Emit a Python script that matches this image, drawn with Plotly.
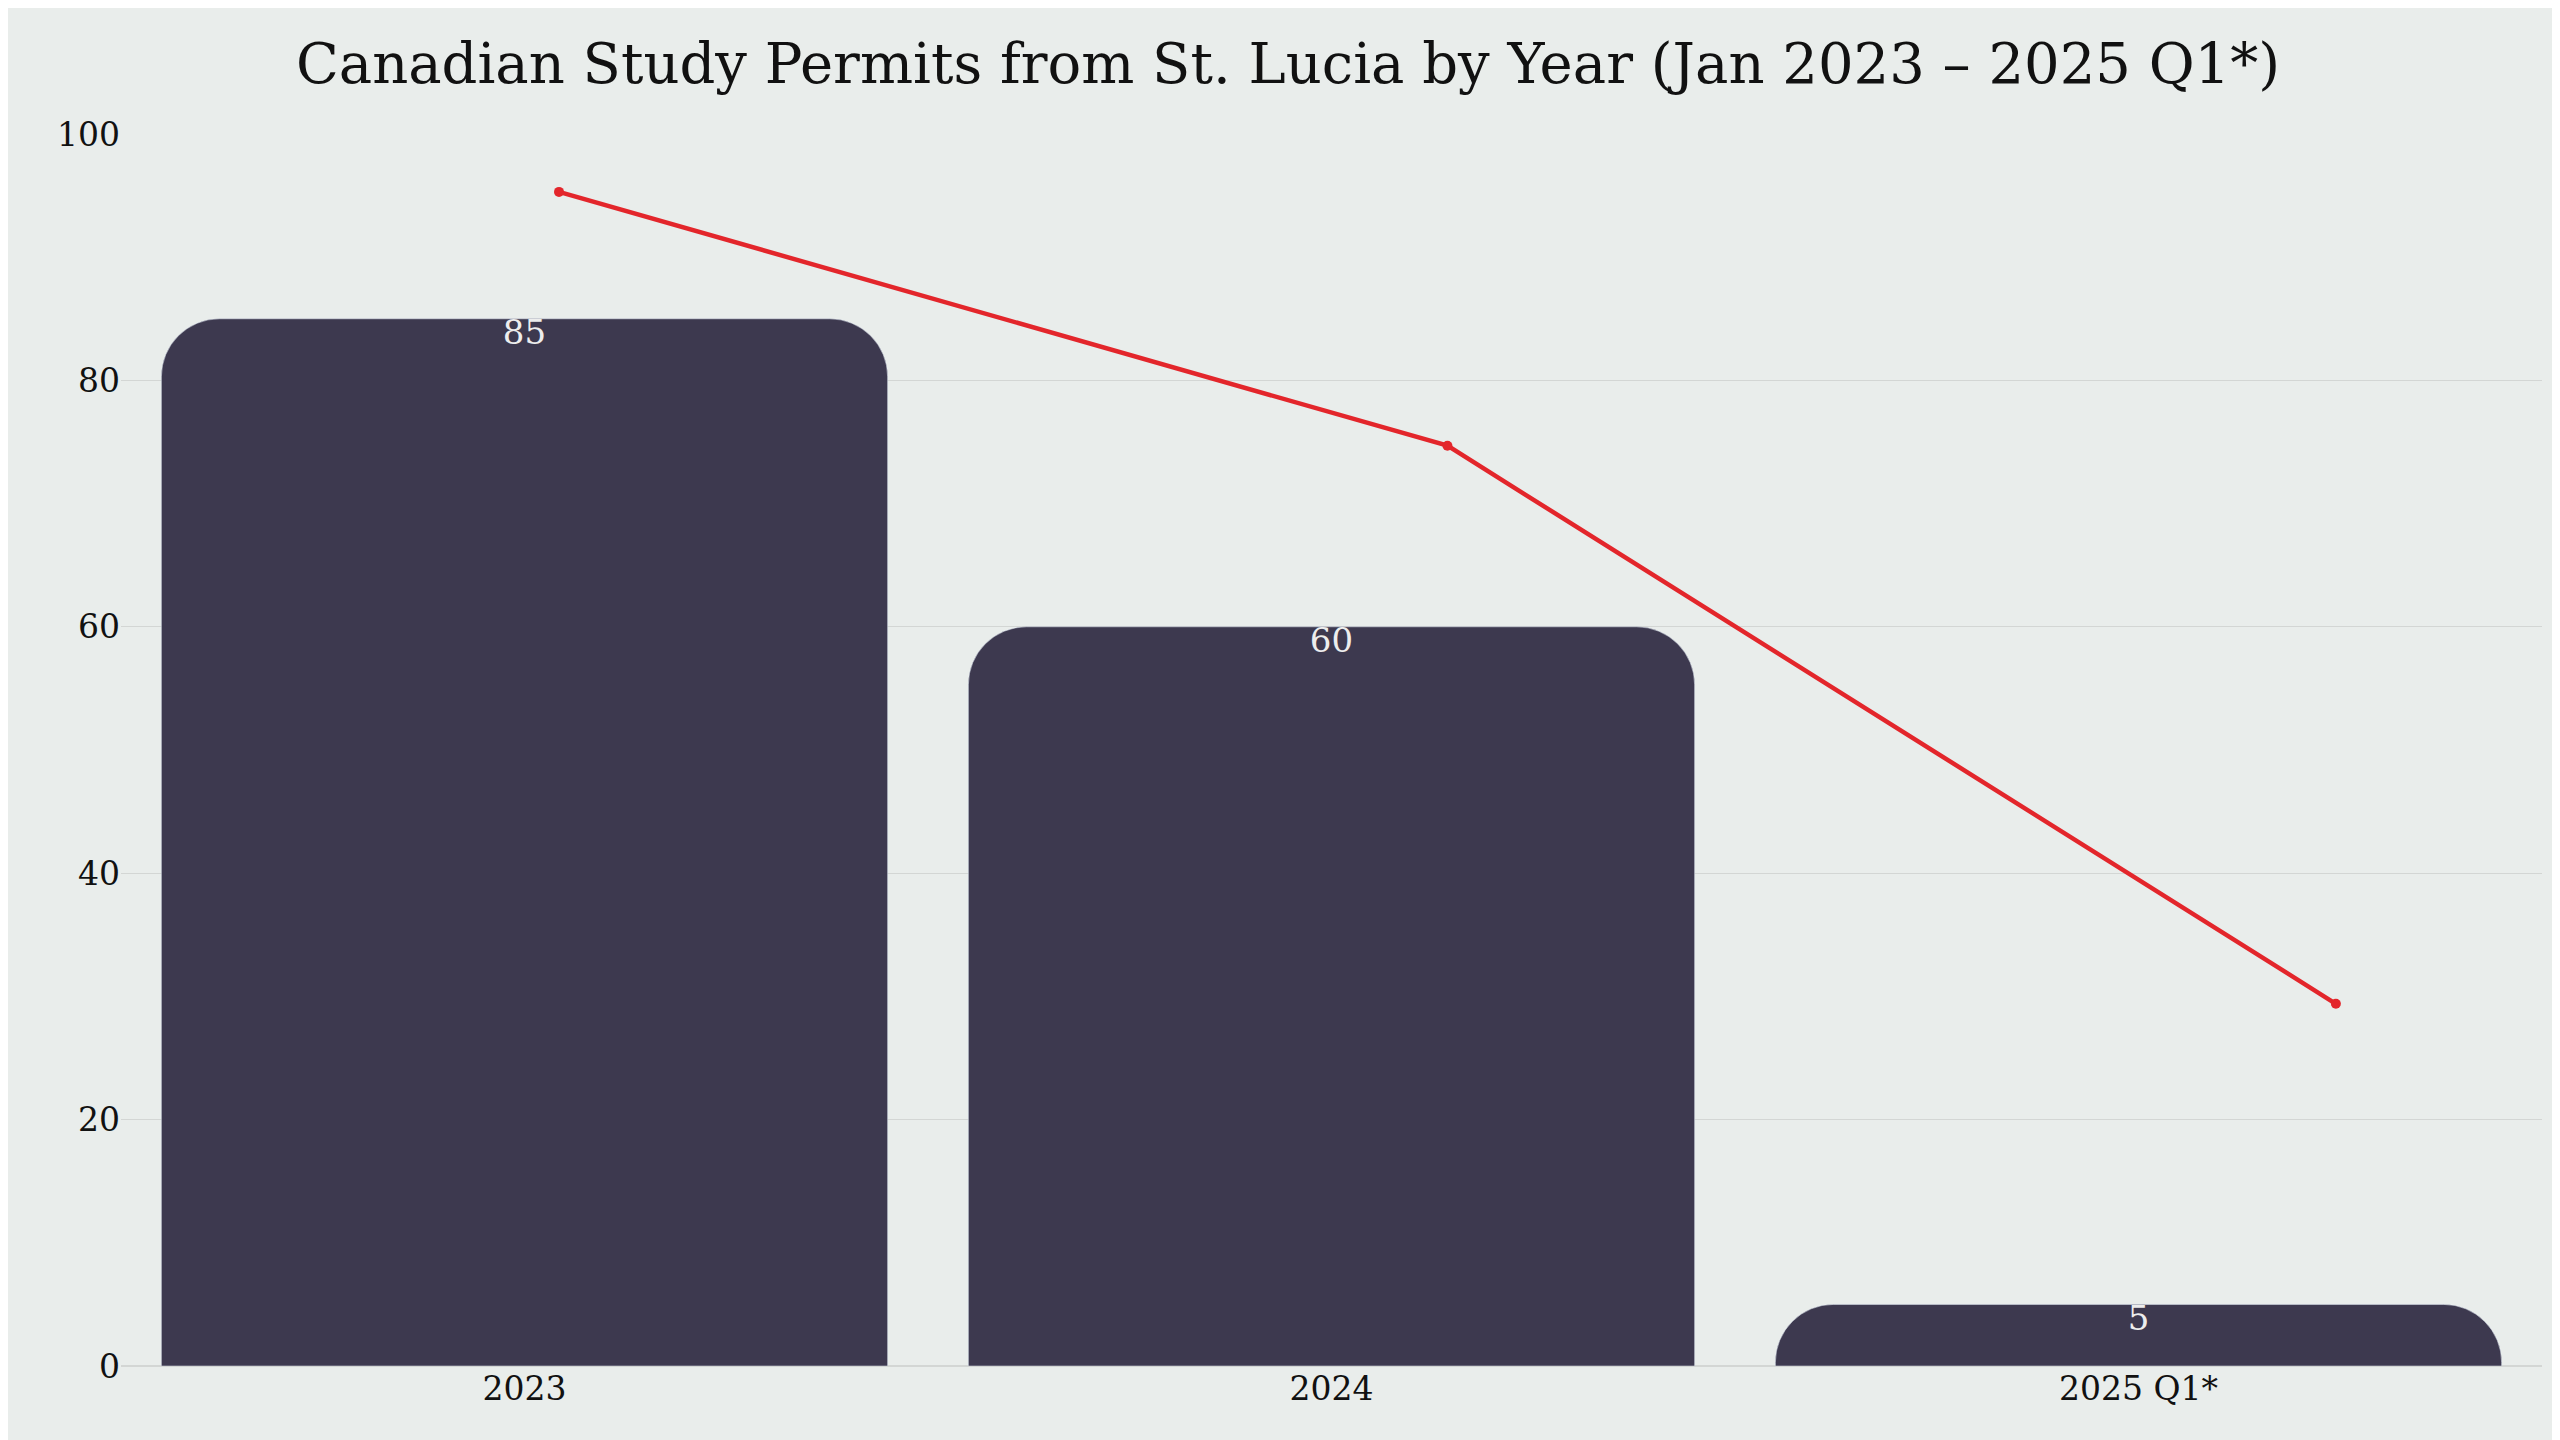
import plotly.graph_objects as go

years = ["2023", "2024", "2025 Q1*"]
permits = [85, 60, 5]
trend_x = [0, 1, 2]
trend_y = [95.3, 74.7, 29.4]

fig = go.Figure()

fig.add_trace(go.Bar(
    x=years, y=permits,
    marker=dict(color="#3D394F", cornerradius=58),
    showlegend=False,
))

# value labels just below the top of each bar
fig.add_trace(go.Scatter(
    x=years, y=permits, mode="text",
    text=[str(v) for v in permits], textposition="bottom center",
    textfont=dict(color="#EDEDED", size=34),
    showlegend=False, hoverinfo="skip",
))

fig.add_trace(go.Scatter(
    x=trend_x, y=trend_y, xaxis="x2",
    mode="lines+markers",
    line=dict(color="#E3262B", width=4.5),
    marker=dict(size=10, color="#E3262B"),
    showlegend=False,
))

fig.update_layout(
    width=2560, height=1440,
    title=dict(text="Canadian Study Permits from St. Lucia by Year (Jan 2023 – 2025 Q1*)",
               x=0.5, xanchor="center", y=0.975, font=dict(size=56, color="#111")),
    font=dict(family="DejaVu Serif, Liberation Serif, serif", size=33, color="#111"),
    paper_bgcolor="#E9EDEB", plot_bgcolor="#E9EDEB",
    margin=dict(l=113, r=26, t=126, b=82, autoexpand=False),
    bargap=0.1,
    xaxis=dict(showgrid=False, showline=False, ticks="", automargin=False),
    xaxis2=dict(overlaying="x", range=[-0.493, 2.232], visible=False),
    yaxis=dict(range=[0, 100], dtick=20, gridcolor="#D3D6D4", gridwidth=1,
               zeroline=True, zerolinecolor="#D3D6D4", ticks="", automargin=False),
)

fig.write_html("out.html")
